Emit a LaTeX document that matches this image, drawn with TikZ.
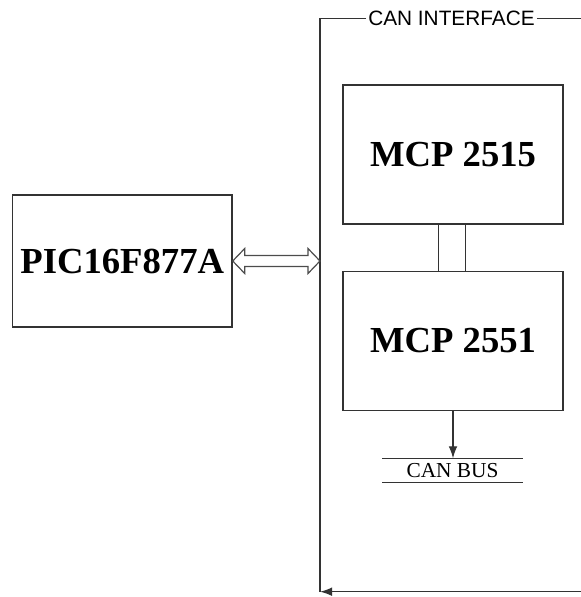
\documentclass[tikz,border=0pt]{standalone}
\usepackage{fontspec}
\setmainfont{Liberation Serif}
\newfontfamily\arialfont{Liberation Sans}
\usetikzlibrary{calc, arrows.meta}

\begin{document}
\begin{tikzpicture}[>={Latex[length=9pt,width=6.5pt]}, line width=1.1pt, x=0.75pt, y=-0.75pt,
    block/.style={draw=black!80, rectangle, minimum width=165pt, font=\fontsize{27.5}{30}\selectfont\bfseries}]
    \useasboundingbox (0,0) rectangle (581,597);

    % Microcontroller box
    \node[block, minimum width=164.6pt, minimum height=99pt] (pic) at (122.25,261) {PIC16F877A};

    % CAN controller and transceiver boxes
    \node[block, minimum height=104.5pt] (ctrl) at (453,154.5) {MCP 2515};
    \node[block, minimum height=104.5pt] (xcvr) at (453,341) {MCP 2551};

    % CAN interface frame
    \coordinate (frame nw) at (320,18.5);
    \coordinate (frame ne) at (581,18.5);
    \coordinate (frame sw) at (320,591.7);
    \coordinate (frame se) at (581,591.7);
    \node[inner sep=1pt, font=\arialfont\fontsize{15.6}{17}\selectfont] (title) at (451.5,18.5) {CAN INTERFACE};
    \draw[black!80] (title.west |- frame nw) -- (frame nw) -- (frame sw);
    \draw[black!80] (title.east |- frame ne) -- (frame ne);
    \draw[->, black!80] (frame se) -- (frame sw);

    % Bus between controller and transceiver
    \draw[black!80] ([xshift=-11pt]ctrl.south) -- ([xshift=-11pt]xcvr.north);
    \draw[black!80] ([xshift=9.5pt]ctrl.south) -- ([xshift=9.5pt]xcvr.north);

    % CAN bus
    \node[minimum width=104pt, minimum height=17pt, inner sep=0pt, font=\fontsize{16}{18}\selectfont] (bus) at (452.5,470.4) {CAN BUS};
    \draw[black!80] (bus.north west) -- (bus.north east);
    \draw[black!80] (bus.south west) -- (bus.south east);
    \draw[->, black!80, line width=0.9pt] (xcvr.south) -- (xcvr.south |- bus.north);

    % SPI link (hollow double arrow)
    \coordinate (spi) at (pic.east -| frame nw);
    \draw[black!70, line width=0.9pt] (pic.east) -- ($(pic.east)+(12,-12.5)$) -- ($(pic.east)+(12,-5.5)$)
        -- ($(spi)+(-12,-5.5)$) -- ($(spi)+(-12,-12.5)$) -- (spi)
        -- ($(spi)+(-12,12.5)$) -- ($(spi)+(-12,5.5)$)
        -- ($(pic.east)+(12,5.5)$) -- ($(pic.east)+(12,12.5)$) -- cycle;
\end{tikzpicture}
\end{document}
